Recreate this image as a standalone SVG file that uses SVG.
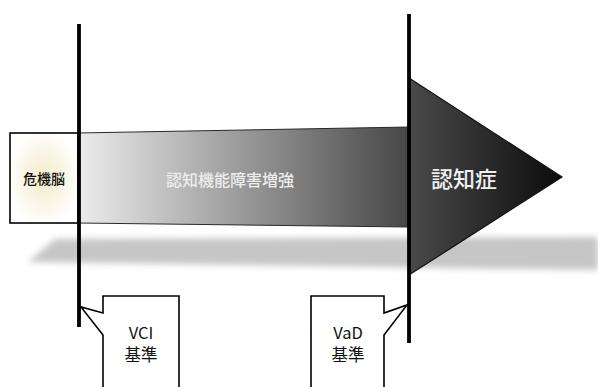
<svg xmlns="http://www.w3.org/2000/svg" width="598" height="387" viewBox="0 0 598 387">
<style>
text{font-family:"Noto Sans CJK JP","Noto Sans",sans-serif;text-anchor:middle;dominant-baseline:central}
.call{fill:#fff;stroke:#000;stroke-width:1.6;stroke-linejoin:miter}
.vl{stroke:#000;stroke-width:3.8}
.lbl{font-size:16.5px;fill:#111}
</style>
<defs>
<linearGradient id="gBar" x1="78" y1="0" x2="409" y2="0" gradientUnits="userSpaceOnUse">
<stop offset="0" stop-color="#ececec"/>
<stop offset="1" stop-color="#464646"/>
</linearGradient>
<linearGradient id="gHead" x1="409" y1="0" x2="562" y2="0" gradientUnits="userSpaceOnUse">
<stop offset="0" stop-color="#4a4a4a"/>
<stop offset="1" stop-color="#0c0c0c"/>
</linearGradient>
<radialGradient id="gGlow" cx="0.5" cy="0.5" r="0.55">
<stop offset="0" stop-color="#f3ebc8"/>
<stop offset="0.6" stop-color="#faf7ea"/>
<stop offset="1" stop-color="#ffffff"/>
</radialGradient>
<filter id="blur" x="-10%" y="-50%" width="120%" height="200%">
<feGaussianBlur stdDeviation="3"/>
</filter>
</defs>
<rect width="598" height="387" fill="#fff"/>
<polygon points="28,262 55,239 598,237 598,270" fill="#c6c6c6" filter="url(#blur)"/>
<g id="bar">
<polygon points="78,133 409,127 409,227 78,223" fill="url(#gBar)" stroke="#2a2a2a" stroke-width="1"/>
<text x="230" y="179" font-size="16" font-weight="500" fill="#ededed">認知機能障害増強</text>
</g>
<g id="kikinou">
<rect x="10" y="133" width="68" height="90" fill="url(#gGlow)" stroke="#000" stroke-width="1.6"/>
<text x="44" y="178" font-size="14" font-weight="500" fill="#111">危機脳</text>
</g>
<g id="ninchisho">
<polygon points="409,78 562,177 409,275" fill="url(#gHead)" stroke="#111" stroke-width="1.2"/>
<text x="464" y="177" font-size="22" font-weight="500" fill="#f0f0f0">認知症</text>
</g>
<g id="connectors">
<line class="vl" x1="79" y1="24" x2="79" y2="327"/>
<line class="vl" x1="409" y1="14" x2="409" y2="343"/>
</g>
<g id="vci">
<path class="call" d="M103,392 V335 L81,307 L103,313 V296 H179 V392"/>
<text class="lbl" x="141" y="332">VCI</text>
<text class="lbl" x="141" y="354">基準</text>
</g>
<g id="vad">
<path class="call" d="M311,392 V296 H384 V313 L407,305 L384,335 V392"/>
<text class="lbl" x="348" y="332">VaD</text>
<text class="lbl" x="348" y="354">基準</text>
</g>
</svg>
